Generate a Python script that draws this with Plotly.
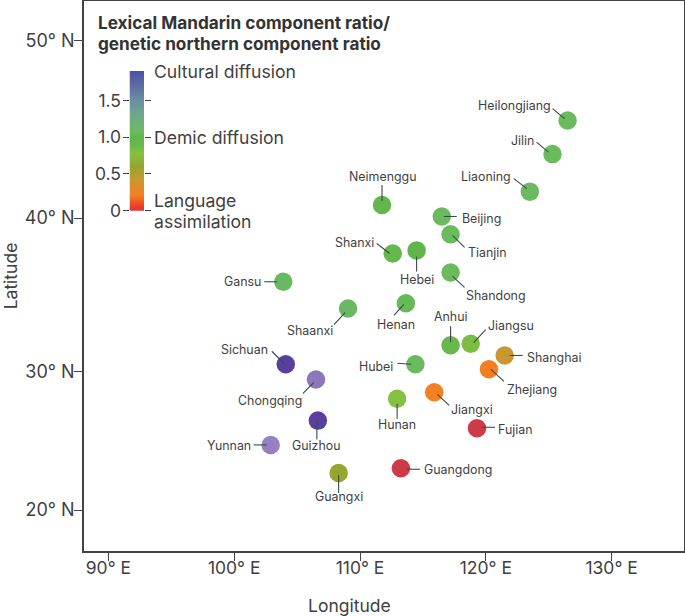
import math
import numpy as np
import plotly.graph_objects as go

provinces = ["Heilongjiang","Jilin","Liaoning","Neimenggu","Beijing","Tianjin","Shanxi","Hebei","Gansu","Shandong","Shaanxi","Henan","Anhui","Jiangsu","Shanghai","Hubei","Zhejiang","Sichuan","Chongqing","Hunan","Jiangxi","Fujian","Guizhou","Yunnan","Guangxi","Guangdong"]
longitude = [126.5,125.3,123.5,111.75,116.5,117.2,112.6,114.5,103.9,117.2,109.05,113.65,117.2,118.8,121.5,114.4,120.25,104.1,106.5,112.95,115.9,119.3,106.65,102.9,108.3,113.25]
latitude = [45.7,43.8,41.6,40.8,40.1,39.0,37.8,38.0,36.0,36.6,34.25,34.6,31.8,31.9,31.1,30.5,30.15,30.5,29.45,28.1,28.55,26.0,26.55,24.8,22.75,23.1]
ratio = [1.08,1.08,1.08,0.95,1.08,1.08,0.92,1.0,1.1,1.08,1.1,1.05,0.9,0.82,0.42,1.08,0.22,2.1,2.1,0.78,0.24,0.0,2.1,2.1,0.6,0.0]
x_ticks = [90,100,110,120,130]
x_tick_labels = ["90° E","100° E","110° E","120° E","130° E"]
y_ticks = [20,30,40,50]
y_tick_labels = ["20° N","30° N","40° N","50° N"]
scale_ticks = [0,0.5,1.0,1.5]
scale_tick_labels = ["0","0.5","1.0","1.5"]

# label placement: province -> leader inner dx,dy, leader outer dx,dy, text dx,dy, text anchor (pixels, y down)
placement = {
 "Heilongjiang":(-3,-2,-15,-12,-16,-15,"right"),"Jilin":(-4,-2,-16,-12,-17,-14,"right"),
 "Liaoning":(-3,-3,-16,-13,-18,-15,"right"),"Neimenggu":(0,-4,0,-20,0,-28,"center"),
 "Beijing":(2,0,15,0,19,2,"left"),"Tianjin":(2,1,14,13,16,18,"left"),
 "Shanxi":(-3,0,-16,-10,-18,-11,"right"),"Hebei":(0,6,0,21,0,29,"center"),
 "Gansu":(-6,0,-19,0,-21,0,"right"),"Shandong":(2,4,14,15,14,23,"left"),
 "Shaanxi":(-3,4,-14,16,-14,22,"right"),"Henan":(-2,1,-12,12,-10,21,"center"),
 "Anhui":(0,-3,0,-19,0,-29,"center"),"Jiangsu":(3,-1,15,-14,16,-18,"left"),
 "Shanghai":(5,0,18,0,21,2,"left"),"Hubei":(-4,0,-18,-1,-21,2,"right"),
 "Zhejiang":(2,0,15,12,17,20,"left"),"Jiangxi":(3,2,15,13,16,17,"left"),
 "Hunan":(0,5,0,20,0,26,"center"),"Fujian":(5,-1,18,-1,20,1,"left"),
 "Guangdong":(6,1,19,1,22,1,"left"),"Sichuan":(-2,-1,-14,-13,-17,-15,"right"),
 "Chongqing":(-2,3,-13,14,-13,21,"right"),"Guizhou":(-1,0,-1,19,-1,25,"center"),
 "Yunnan":(-4,0,-17,0,-19,1,"right"),"Guangxi":(0,2,0,20,0,23,"center"),
}
faded = {"Chongqing":0.7,"Yunnan":0.65}

TEXT = "#3f3f3f"
AXIS = "#444444"
FONT = "Inter"
ZMAX = 2.1
stops = [(0,"#cc3c48"),(0.06,"#ea3a28"),(0.22,"#f57f20"),(0.45,"#c49a35"),(0.6,"#95a52e"),(0.78,"#86c040"),
         (0.9,"#68b84c"),(1.0,"#60b64c"),(1.08,"#6abb5e"),(1.3,"#6fa88a"),(1.5,"#6a8fa0"),(1.9,"#4f50a5"),(2.1,"#5a3f9e")]
colorscale = [[v/ZMAX,c] for v,c in stops]

def merc(lat):
    return math.log(math.tan(math.pi/4+math.radians(lat)/2))

fig = go.Figure()
ys = [merc(v) for v in latitude]
fig.add_trace(go.Scatter(x=longitude,y=ys,mode="markers",text=provinces,hoverinfo="text",showlegend=False,
    marker=dict(size=18.5,color=ratio,colorscale=colorscale,cmin=0,cmax=ZMAX,line=dict(width=0),
                opacity=[faded.get(p,1) for p in provinces])))
grad = np.linspace(0,1.9,140)
fig.add_trace(go.Heatmap(x=[0,1],y=grad,z=[[g,g] for g in grad],xaxis="x2",yaxis="y2",colorscale=colorscale,
    zmin=0,zmax=ZMAX,showscale=False,zsmooth="best",hoverinfo="skip"))

shapes=[]; ann=[]
for p,lon,y in zip(provinces,longitude,ys):
    a,b,c,d,tx,ty,anch = placement[p]
    shapes.append(dict(type="line",xref="x",yref="y",xsizemode="pixel",ysizemode="pixel",xanchor=lon,yanchor=y,
        x0=a,x1=c,y0=-b,y1=-d,line=dict(color="#3a4a4a",width=1.1),layer="above"))
    ann.append(dict(x=lon,y=y,xref="x",yref="y",text=p,showarrow=False,xanchor=anch,yanchor="middle",borderpad=0,
        xshift=tx,yshift=-ty,font=dict(family=FONT,size=12.4,color=TEXT)))
for txt,yy in [("Lexical Mandarin component ratio/",(551-22)/550),("genetic northern component ratio",(551-44)/550)]:
    ann.append(dict(x=13/600,y=yy,xref="paper",yref="paper",text="<b>%s</b>"%txt,showarrow=False,xanchor="left",yanchor="middle",borderpad=0,
        font=dict(family=FONT,size=17.2,color="#333333")))
for txt,yy,shift in [("Cultural diffusion",1.9,0),("Demic diffusion",1.0,0),("Language",0,10),("assimilation",0,-11)]:
    ann.append(dict(x=1,y=yy,xref="x2",yref="y2",text=txt,showarrow=False,xanchor="left",yanchor="middle",borderpad=0,
        xshift=9,yshift=shift,font=dict(family=FONT,size=17.6,color=TEXT)))
ann.append(dict(x=(349-84)/600,y=(551-605)/550,xref="paper",yref="paper",text="Longitude",showarrow=False,xanchor="center",yanchor="middle",
    borderpad=0,font=dict(family=FONT,size=17.5,color=TEXT)))

fig.update_layout(width=685,height=616,margin=dict(l=84,r=1,t=1,b=65,autoexpand=False),paper_bgcolor="white",plot_bgcolor="white",
    font=dict(family=FONT,color=TEXT),shapes=shapes,annotations=ann,showlegend=False,
    xaxis=dict(range=[88.06,135.755],tickvals=x_ticks,ticktext=x_tick_labels,ticks="outside",ticklen=8,tickcolor=AXIS,ticklabelstandoff=-8,
        showgrid=False,zeroline=False,showline=True,linecolor=AXIS,linewidth=1.5,mirror=True,tickfont=dict(size=17.5,color=TEXT)),
    yaxis=dict(range=[0.2993,1.0653],tickvals=[merc(v) for v in y_ticks],ticktext=y_tick_labels,ticks="outside",ticklen=8,tickcolor=AXIS,ticklabelstandoff=-4,
        showgrid=False,zeroline=False,showline=True,linecolor=AXIS,linewidth=1.5,mirror=True,tickfont=dict(size=18,color=TEXT),
        title=dict(text="Latitude",font=dict(size=17.5,color=TEXT),standoff=7)),
    xaxis2=dict(domain=[45.5/600,60/600],range=[0,1],anchor="y2",showticklabels=False,ticks="",showgrid=False,zeroline=False,showline=False),
    yaxis2=dict(domain=[(551-210.7)/550,(551-71)/550],range=[0,1.9],anchor="x2",tickvals=scale_ticks,ticktext=scale_tick_labels,ticklabelstandoff=-2,
        ticks="outside",ticklen=6,tickcolor=AXIS,mirror="ticks",showgrid=False,zeroline=False,showline=False,tickfont=dict(size=17.5,color=TEXT)),
)
fig.write_html("out.html",post_script="document.body.style.margin='0';",config={"displayModeBar":False})
